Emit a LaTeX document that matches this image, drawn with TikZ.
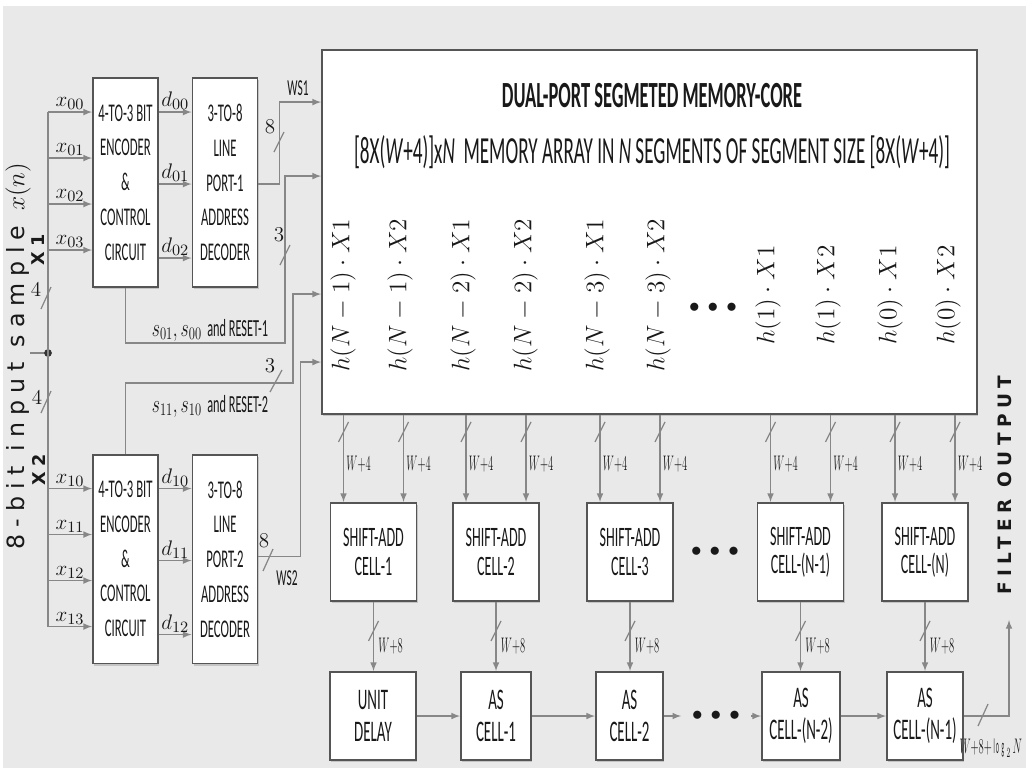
\documentclass[tikz,border=0pt]{standalone}
\usepackage{fontspec}
\usepackage{graphicx}
\setmainfont{Carlito}[FakeStretch=0.5]
\newfontfamily\sidefont{DejaVu Sans}[LetterSpace=30]
\usetikzlibrary{calc,shadows}
\definecolor{bggray}{RGB}{233,233,233}
\definecolor{wiregray}{RGB}{135,135,135}
\definecolor{boxline}{RGB}{85,85,85}
\newcommand{\thin}[1]{\scalebox{0.5}[1]{#1}}
\newcommand{\narrowmath}[1]{\scalebox{0.7}[1]{#1}}

\begin{document}
\begin{tikzpicture}[x=0.02cm, y=-0.02cm,
    every node/.style={align=center, text=black!90, inner sep=1pt},
    blk/.style={rectangle, draw=boxline, line width=1.1pt, fill=white, inner sep=0pt,
                drop shadow={shadow xshift=0.6pt, shadow yshift=-1.2pt, opacity=0.35}},
    encbox/.style={blk, minimum width=1.3cm, minimum height=4.18cm, font=\fontsize{14.5}{19.8}\selectfont},
    cellbox/.style={blk, minimum width=1.72cm, minimum height=1.96cm, font=\fontsize{16}{16}\selectfont},
    asbox/.style={blk, minimum height=1.76cm, font=\fontsize{17}{18}\selectfont},
    membox/.style={blk, minimum width=13.1cm, minimum height=7.28cm},
    arr/.style={-latex, draw=wiregray, line width=0.7pt},
    wire/.style={draw=wiregray, line width=0.7pt},
    buslabel/.style={font=\fontsize{13}{13}\selectfont},
    sublabel/.style={font=\fontsize{13}{13}\selectfont},
    prod/.style={rotate=90, font=\fontsize{15.5}{15.5}\selectfont},
    dots/.style={font=\large, inner xsep=6pt},
]
    \fill[white] (0,0) rectangle (1026,768);
    \fill[bggray] (3,6) rectangle (1026,768);
    \useasboundingbox (0,0) rectangle (1026,768);

    \node[encbox] (enc1) at (125.5,182.5) {4-TO-3 BIT\\ENCODER\\\&\\CONTROL\\CIRCUIT};
    \node[encbox] (dec1) at (225,182.5) {3-TO-8\\LINE\\PORT-1\\ADDRESS\\DECODER};
    \node[encbox] (enc2) at (125.5,559) {4-TO-3 BIT\\ENCODER\\\&\\CONTROL\\CIRCUIT};
    \node[encbox] (dec2) at (225,559) {3-TO-8\\LINE\\PORT-2\\ADDRESS\\DECODER};
    \node[membox] (mem) at (649.5,232) {};

    \node[font=\bfseries\fontsize{21}{21}\selectfont] (memtitle) at (652,96) {DUAL-PORT SEGMETED MEMORY-CORE};
    \node[font=\fontsize{21.8}{21}\selectfont] (memsize) at (652,152) {[8X(\textit{W}+4)]x\textit{N}\ \ MEMORY ARRAY IN \textit{N} SEGMENTS OF SEGMENT SIZE [8X(\textit{W}+4)]};
    \foreach \x/\k/\j [count=\c] in {343/N-1/1, 400/N-1/2, 463/N-2/1, 525/N-2/2, 597/N-3/1, 658/N-3/2, 768/1/1, 828/1/2, 890/0/1, 948/0/2}
        \node[prod] (h\c) at (\x,295) {$h(\k)\cdot X\j$};
    \node[dots] (memdots) at (713,308) {$\bullet\,\bullet\,\bullet$};

    \foreach \x/\n [count=\i] in {373.5/1, 496/2, 630/3, 800.5/(N-1), 925/(N)}
        \node[cellbox] (sa\i) at (\x,552) {SHIFT-ADD\\CELL-\n};
    \node[dots] (sadots) at (715,552) {$\bullet\,\bullet\,\bullet$};

    \foreach \x/\w/\a/\b [count=\i] in {373/1.72/UNIT/DELAY, 496/1.4/AS/CELL-1, 629.5/1.34/AS/CELL-2, 801/1.56/AS/CELL-(N-2), 925/1.52/AS/CELL-(N-1)}
        \node[asbox, minimum width=\w cm] (as\i) at (\x,716) {\a\\\b};
    \node[dots] (asdots) at (716,716) {$\bullet\,\bullet\,\bullet$};

    \foreach \i in {1,...,5} {
        \foreach \s in {-30,30} {
            \coordinate (bot) at ($(sa\i.north)+(\s,0)$);
            \coordinate (top) at (bot |- mem.south);
            \draw[arr] (top) -- (bot);
            \draw[wire] ($(top)+(-5,27)$) -- ($(top)+(5,7)$);
            \node[buslabel] at ($(top)+(15,49)$) {\thin{$W{+}4$}};
        }
        \draw[arr] (sa\i.south) -- (sa\i.south |- as\i.north);
        \draw[wire] ($(sa\i.south)+(-5,39)$) -- ($(sa\i.south)+(5,19)$);
        \node[buslabel] at ($(sa\i.south)+(17,44)$) {\thin{$W{+}8$}};
    }
    \draw[arr] (as1) -- (as2);
    \draw[arr] (as2) -- (as3);
    \draw[arr] (as3) -- (asdots);
    \draw[arr] (asdots) -- (as4);
    \draw[arr] (as4) -- (as5);
    \coordinate (outtip) at (1009,620);
    \draw[arr] (as5) -| (outtip);
    \draw[wire] (978,726) -- (988,704);
    \node[font=\fontsize{12}{12}\selectfont, anchor=east] (outwidth) at (1024,748) {\thin{$W{+}8{+}\log_2 N$}};
    \node[rotate=90, font=\sidefont\bfseries\fontsize{10.5}{11}\selectfont] (filtout) at (1005,485) {FILTER OUTPUT};

    \coordinate (busin) at (30,353);
    \coordinate (junc) at (48,353);
    \draw[wire] (busin) -- (junc);
    \fill[black!80] (junc) circle (2.2pt);
    \foreach \dy/\k in {35/0, 81/1, 127/2, 173/3} {
        \coordinate (in1\k) at ($(enc1.north west)+(0,\dy)$);
        \coordinate (in2\k) at ($(enc2.north west)+(0,\dy)$);
        \draw[arr] (in1\k -| junc) -- (in1\k);
        \draw[arr] (in2\k -| junc) -- (in2\k);
        \node[sublabel, anchor=south] at ($(in1\k -| junc)!0.5!(in1\k)$) {$x_{0\k}$};
        \node[sublabel, anchor=south] at ($(in2\k -| junc)!0.5!(in2\k)$) {$x_{1\k}$};
    }
    \draw[wire] (in10 -| junc) -- (in23 -| junc);
    \draw[wire] (41,309) -- (51,287);
    \draw[wire] (41,413) -- (51,391);
    \node[buslabel] (four1) at (36,290) {$4$};
    \node[buslabel] (four2) at (37,398) {$4$};
    \node[rotate=90, font=\sidefont\fontsize{13.5}{14}\selectfont] (insample) at (18,356) {8-bit input sample $x(n)$};
    \node[rotate=90, font=\sidefont\bfseries\fontsize{10}{10}\selectfont] (x1lab) at (38,250) {X1};
    \node[rotate=90, font=\sidefont\bfseries\fontsize{10}{10}\selectfont] (x2lab) at (39,470) {X2};

    \foreach \dy/\k in {35/0, 107/1, 181/2} {
        \coordinate (d1\k) at ($(enc1.north east)+(0,\dy)$);
        \coordinate (d2\k) at ($(enc2.north east)+(0,\dy)$);
        \draw[arr] (d1\k) -- (d1\k -| dec1.west);
        \draw[arr] (d2\k) -- (d2\k -| dec2.west);
        \node[sublabel, anchor=south] at ($(d1\k)!0.5!(d1\k -| dec1.west)$) {$d_{0\k}$};
        \node[sublabel, anchor=south] at ($(d2\k)!0.5!(d2\k -| dec2.west)$) {$d_{1\k}$};
    }

    \coordinate (m1) at ($(mem.north west)+(0,53)$);
    \coordinate (m2) at ($(mem.north west)+(0,127)$);
    \coordinate (m3) at ($(mem.north west)+(0,245)$);
    \coordinate (m4) at ($(mem.north west)+(0,313)$);
    \coordinate (ws1) at ($(dec1.north east)+(0,107)$);
    \coordinate (ws2) at ($(dec2.north east)+(0,103)$);
    \coordinate (r1) at (285,343);
    \coordinate (r2) at (293,383);
    \draw[arr] (ws1) -- ++(21,0) |- (m1);
    \draw[arr] (enc1.south) |- (r1) |- (m2);
    \draw[arr] (enc2.north) |- (r2) |- (m3);
    \draw[arr] (ws2) -- ++(42,0) |- (m4);

    \draw[wire] (274,152) -- (284,132);
    \node[buslabel] (eight1) at (270,127) {$8$};
    \node[buslabel] (ws1lab) at (298,88) {WS1};
    \draw[wire] (280,265) -- (290,245);
    \node[buslabel] (three1) at (279,235) {$3$};
    \draw[wire] (270,392) -- (282,370);
    \node[buslabel] (three2) at (270,366) {$3$};
    \draw[wire] (263,571) -- (273,549);
    \node[buslabel] (eight2) at (264,541) {$8$};
    \node[buslabel] (ws2lab) at (287,578) {WS2};
    \node[font=\fontsize{14}{14}\selectfont] (rst1) at (210,330) {\narrowmath{$s_{01},s_{00}$}\ \ and RESET-1};
    \node[font=\fontsize{14}{14}\selectfont] (rst2) at (210,406) {\narrowmath{$s_{11},s_{10}$}\ \ and RESET-2};
\end{tikzpicture}
\end{document}
